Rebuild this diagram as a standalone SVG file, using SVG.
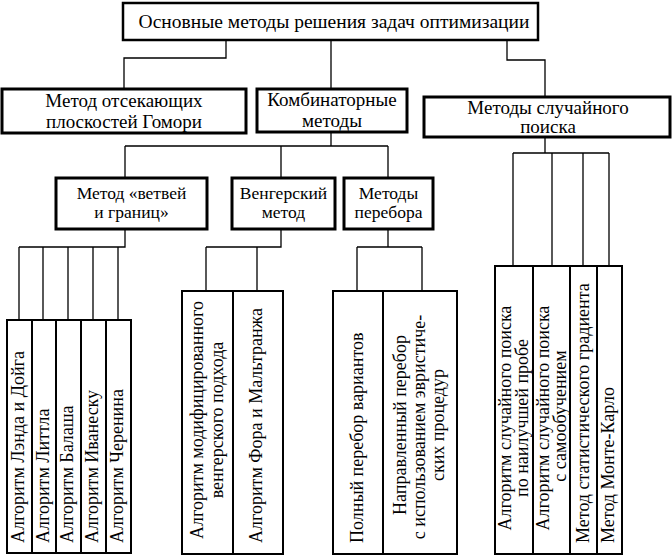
<svg xmlns="http://www.w3.org/2000/svg" width="672" height="557" viewBox="0 0 672 557" font-family="'Liberation Serif', 'DejaVu Serif', serif">
<style>
text{font-family:"Liberation Serif","DejaVu Serif",serif;fill:#000}
.b1{fill:#fff;stroke:#000;stroke-width:2.5}
.b2{fill:#fff;stroke:#000;stroke-width:3}
.b3{fill:#fff;stroke:#000;stroke-width:2}
.t1{font-size:19.5px;text-anchor:middle}
.t2{font-size:19px;text-anchor:middle}
.t3{font-size:17.5px;text-anchor:middle}
.r{font-size:18px}
.rm{font-size:18px;text-anchor:middle}
.c{fill:none;stroke:#000;stroke-width:1.3}
</style>
<rect width="672" height="557" fill="#fff"/>
<g id="connectors">
<path class="c" d="M226,40V58H124V89M331,40V89M507,40V60H545V97"/>
<path class="c" d="M331,132V146M125,146H388M125,146V178M281,146V178M388,146V178"/>
<path class="c" d="M545,137V153M513,153H609M513,153V266M552,153V266M583,153V266M609,153V266"/>
<path class="c" d="M125,229V247H19M19,247V320M43,247V320M68,247V320M93,247V320M118,247V320"/>
<path class="c" d="M281,229V247H206M206,247V291M257,247V291"/>
<path class="c" d="M388,229V247M357,247H422M357,247V291M422,247V291"/>
</g>
<g id="root">
<rect class="b1" x="123" y="3" width="415" height="37"/>
<text class="t1" x="334" y="28">Основные методы решения задач оптимизации</text>
</g>
<g id="gomory">
<rect class="b2" x="2" y="89" width="244" height="44"/>
<text class="t2" x="124" y="107">Метод отсекающих</text>
<text class="t2" x="124" y="128">плоскостей Гомори</text>
</g>
<g id="combinatorial">
<rect class="b2" x="257" y="89" width="150" height="43"/>
<text class="t2" x="332" y="106">Комбинаторные</text>
<text class="t2" x="332" y="127">методы</text>
</g>
<g id="random">
<rect class="b2" x="424" y="97" width="246" height="40"/>
<text class="t2" x="548" y="114">Методы случайного</text>
<text class="t2" x="548" y="133">поиска</text>
</g>
<g id="branch">
<rect class="b2" x="56" y="178" width="151" height="51"/>
<text class="t3" x="131.5" y="199">Метод «ветвей</text>
<text class="t3" x="131.5" y="218">и границ»</text>
</g>
<g id="hungarian">
<rect class="b2" x="232" y="178" width="103" height="51"/>
<text class="t3" x="283.5" y="199">Венгерский</text>
<text class="t3" x="283.5" y="218">метод</text>
</g>
<g id="enumeration">
<rect class="b2" x="344" y="178" width="89" height="51"/>
<text class="t3" x="388.5" y="199">Методы</text>
<text class="t3" x="388.5" y="218">перебора</text>
</g>
<g id="land-doig">
<rect class="b3" x="7" y="320" width="25" height="233"/>
<text class="r" transform="translate(24,543) rotate(-90)">Алгоритм Лэнда и Дойга</text>
</g>
<g id="little">
<rect class="b3" x="32" y="320" width="24" height="233"/>
<text class="r" transform="translate(48.5,543) rotate(-90)">Алгоритм Литтла</text>
</g>
<g id="balas">
<rect class="b3" x="56" y="320" width="25" height="233"/>
<text class="r" transform="translate(73,543) rotate(-90)">Алгоритм Балаша</text>
</g>
<g id="ivanescu">
<rect class="b3" x="81" y="320" width="25" height="233"/>
<text class="r" transform="translate(98,543) rotate(-90)">Алгоритм Иванеску</text>
</g>
<g id="cherenin">
<rect class="b3" x="106" y="320" width="25" height="233"/>
<text class="r" transform="translate(123,543) rotate(-90)">Алгоритм Черенина</text>
</g>
<g id="modified-hungarian">
<rect class="b3" x="182" y="291" width="51" height="263"/>
<text class="rm" transform="translate(203,420) rotate(-90)">Алгоритм модифицированного</text>
<text class="rm" transform="translate(223,420) rotate(-90)">венгерского подхода</text>
</g>
<g id="ford-malgrange">
<rect class="b3" x="233" y="291" width="50" height="263"/>
<text class="r" transform="translate(262,543) rotate(-90)">Алгоритм Фора и Мальтранжа</text>
</g>
<g id="full-enum">
<rect class="b3" x="333" y="291" width="50" height="263"/>
<text class="r" transform="translate(362.5,543) rotate(-90)">Полный перебор вариантов</text>
</g>
<g id="directed-enum">
<rect class="b3" x="383" y="291" width="74" height="263"/>
<text class="rm" transform="translate(406,425) rotate(-90)">Направленный перебор</text>
<text class="rm" transform="translate(425,427) rotate(-90)">с использованием эвристиче-</text>
<text class="rm" transform="translate(444,425) rotate(-90)">ских процедур</text>
</g>
<g id="best-trial">
<rect class="b3" x="495" y="266" width="38" height="288"/>
<text class="rm" transform="translate(511,418) rotate(-90)">Алгоритм случайного поиска</text>
<text class="rm" transform="translate(528,418) rotate(-90)">по наилучшей пробе</text>
</g>
<g id="self-learning">
<rect class="b3" x="533" y="266" width="37" height="288"/>
<text class="rm" transform="translate(549,418) rotate(-90)">Алгоритм случайного поиска</text>
<text class="rm" transform="translate(566,416) rotate(-90)">с самообучением</text>
</g>
<g id="stat-gradient">
<rect class="b3" x="570" y="266" width="27" height="288"/>
<text class="r" transform="translate(589,543) rotate(-90)">Метод статистического градиента</text>
</g>
<g id="monte-carlo">
<rect class="b3" x="597" y="266" width="25" height="288"/>
<text class="r" transform="translate(614,543) rotate(-90)">Метод Монте-Карло</text>
</g>
</svg>
